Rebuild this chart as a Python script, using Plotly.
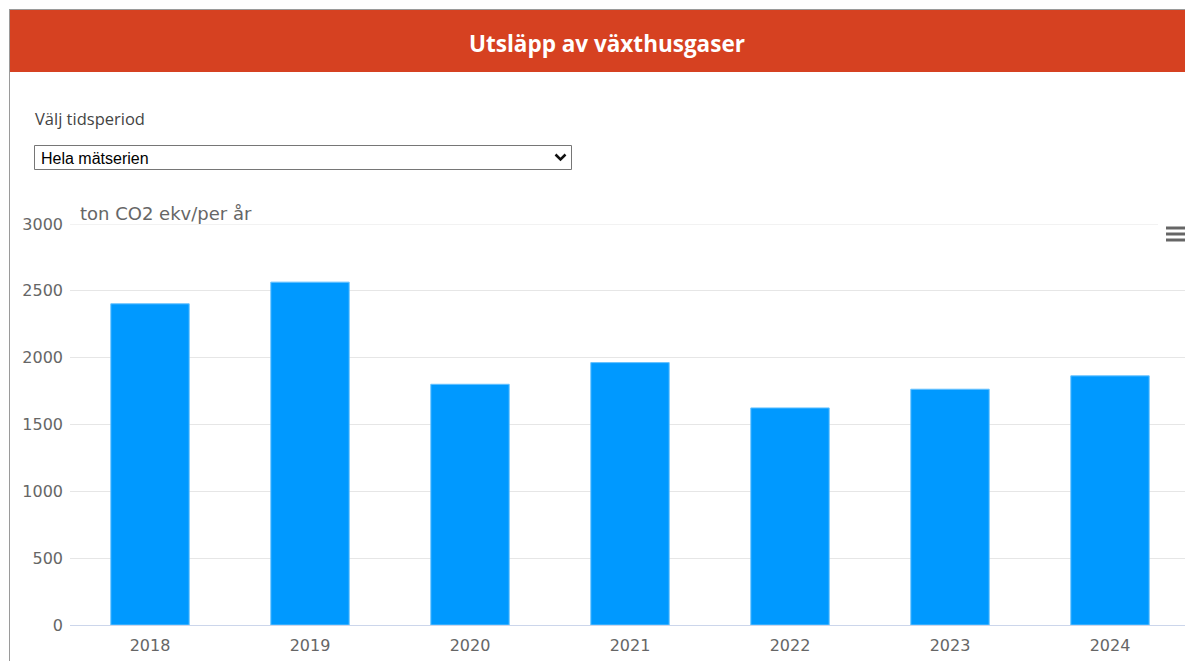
import plotly.graph_objects as go

years = ["2018", "2019", "2020", "2021", "2022", "2023", "2024"]
emissions = [2403, 2565, 1801, 1963, 1624, 1764, 1864]
y_ticks = [0, 500, 1000, 1500, 2000, 2500, 3000]

OFF = 8  # page body margin
W, H = 1193 - OFF, 661 - OFF
L, R, T, B = 70 - OFF, 1190 - OFF, 224 - OFF, 625 - OFF  # plot area in figure pixels


def px(x):
    return (x - OFF - L) / (R - L)


def py(y):
    return (B - (y - OFF)) / (B - T)


fig = go.Figure()
fig.add_trace(go.Bar(
    x=years, y=emissions,
    marker=dict(color="#0099ff", line=dict(color="#66c2ff", width=1)),
    width=0.49,
    hoverinfo="x+y",
))

shapes = []
# header bar
shapes.append(dict(type="rect", xref="paper", yref="paper",
                   x0=px(10), x1=px(1200), y0=py(72), y1=py(10),
                   fillcolor="#d64121", line=dict(width=0), layer="below"))
# outer borders
shapes.append(dict(type="line", xref="paper", yref="paper",
                   x0=px(9.5), x1=px(9.5), y0=py(9), y1=py(670),
                   line=dict(color="#9a9a9a", width=1)))
shapes.append(dict(type="line", xref="paper", yref="paper",
                   x0=px(9.5), x1=px(1200), y0=py(9.5), y1=py(9.5),
                   line=dict(color="#9a9a9a", width=1)))
# dropdown box
shapes.append(dict(type="rect", xref="paper", yref="paper",
                   x0=px(34.5), x1=px(571.5), y0=py(169.5), y1=py(145.5),
                   fillcolor="white", line=dict(color="#767676", width=1)))
# dropdown chevron
shapes.append(dict(type="path", xref="paper", yref="paper",
                   path="M {} {} L {} {} L {} {}".format(
                       px(555.5), py(154.5), px(560.5), py(159.5), px(565.5), py(154.5)),
                   line=dict(color="#111111", width=2.5)))
# top gridline (at the range edge), stopping before the menu icon
shapes.append(dict(type="line", xref="paper", yref="y",
                   x0=0, x1=px(1158), y0=y_ticks[-1], y1=y_ticks[-1],
                   line=dict(color="#e6e6e6", width=1), layer="below"))
# hamburger icon
for yy in (228, 234, 240):
    shapes.append(dict(type="line", xref="paper", yref="paper",
                       x0=px(1166), x1=px(1186), y0=py(yy), y1=py(yy),
                       line=dict(color="#666666", width=3)))

annotations = [
    dict(text="<b>Utsläpp av växthusgaser</b>", xref="paper", yref="paper",
         x=px(607), y=py(43), xanchor="center", yanchor="middle", showarrow=False,
         font=dict(family="Open Sans", size=22.5, color="white")),
    dict(text="Välj tidsperiod", xref="paper", yref="paper",
         x=px(33), y=py(118), xanchor="left", yanchor="middle", showarrow=False,
         font=dict(family="Open Sans", size=16.5, color="#444444")),
    dict(text="Hela mätserien", xref="paper", yref="paper",
         x=px(39), y=py(158), xanchor="left", yanchor="middle", showarrow=False,
         font=dict(family="Liberation Sans", size=16, color="#000000")),
    dict(text="ton CO2 ekv/per år", xref="paper", yref="paper",
         x=px(78), y=py(213), xanchor="left", yanchor="middle", showarrow=False,
         font=dict(family="DejaVu Sans", size=18, color="#666666")),
]

fig.update_layout(
    width=W, height=H,
    margin=dict(l=L, r=W - R, t=T, b=H - B, pad=0),
    paper_bgcolor="white", plot_bgcolor="white",
    showlegend=False,
    shapes=shapes,
    annotations=annotations,
    xaxis=dict(
        showgrid=False, showline=True, linecolor="#ccd6eb", linewidth=1,
        tickfont=dict(family="DejaVu Sans", size=16, color="#666666"),
        ticks="", ticklabelstandoff=6, fixedrange=True,
    ),
    yaxis=dict(
        range=[0, 3000], tickvals=y_ticks, ticktext=[str(v) for v in y_ticks],
        showgrid=True, gridcolor="#e6e6e6", gridwidth=1, zeroline=False,
        showline=False,
        tickfont=dict(family="DejaVu Sans", size=16, color="#666666"),
        ticks="", ticklabelstandoff=6, fixedrange=True,
    ),
)

fig.write_html("out.html", config={"displayModeBar": False})
